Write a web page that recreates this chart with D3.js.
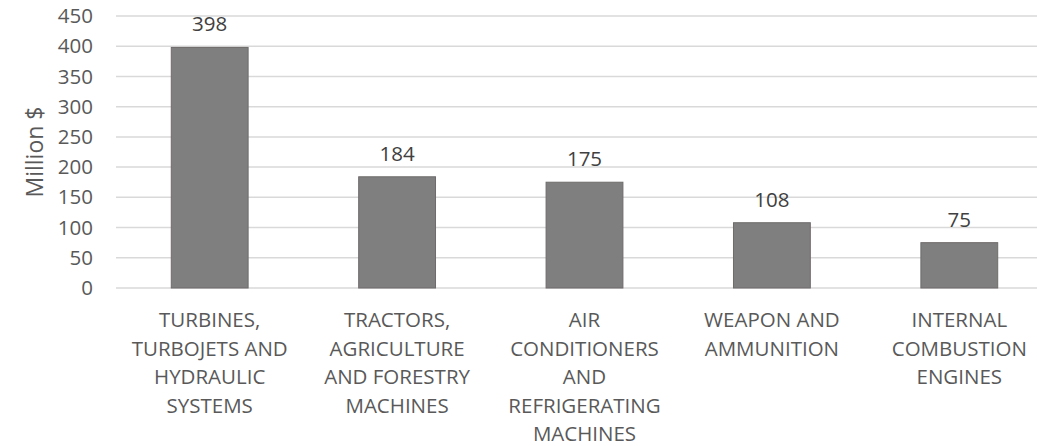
<!DOCTYPE html>
<html>
<head>
<meta charset="utf-8">
<script src="https://cdn.jsdelivr.net/npm/d3@7"></script>
<style>
	body { margin: 0; background: #fff; }
	text { font-family: "Open Sans", sans-serif; fill: #595959; }
</style>
</head>
<body>
<div id="chart"></div>
<script>
// Data
var categories = [
	"TURBINES, TURBOJETS AND HYDRAULIC SYSTEMS",
	"TRACTORS, AGRICULTURE AND FORESTRY MACHINES",
	"AIR CONDITIONERS AND REFRIGERATING MACHINES",
	"WEAPON AND AMMUNITION",
	"INTERNAL COMBUSTION ENGINES"
];
var values = [398, 184, 175, 108, 75];
var yTicks = [0, 50, 100, 150, 200, 250, 300, 350, 400, 450];

var width = 1037, height = 446;
var plot = { left: 116, right: 1053, top: 16, bottom: 288 };
var fontSize = "20.5px";

var svg = d3.select("#chart")
	.append("svg")
		.attr("width", width)
		.attr("height", height);

var x = d3.scaleBand()
	.domain(categories)
	.range([plot.left, plot.right])
	.paddingInner(0.59)
	.paddingOuter(0.295);

var y = d3.scaleLinear()
	.domain([0, 450])
	.range([plot.bottom, plot.top]);

// gridlines
svg.append("g")
	.selectAll("line")
	.data(yTicks)
	.enter()
	.append("line")
		.attr("x1", plot.left)
		.attr("x2", width)
		.attr("y1", function(d){ return y(d); })
		.attr("y2", function(d){ return y(d); })
		.attr("stroke", "#d9d9d9")
		.attr("stroke-width", 1.5);

// y axis labels
var yAxis = d3.axisLeft(y).tickValues(yTicks).tickSize(0).tickPadding(0);
var yg = svg.append("g")
	.attr("transform", "translate(93,0)")
	.call(yAxis);
yg.select(".domain").remove();
yg.selectAll("text")
	.style("font-size", fontSize)
	.attr("fill", "#595959")
	.style("font-family", "'Open Sans', sans-serif");

// axis title
svg.append("text")
	.attr("transform", "translate(43," + ((plot.top + plot.bottom) / 2) + ") rotate(-90)")
	.attr("text-anchor", "middle")
	.style("font-size", "23px")
	.text("Million $");

// bars
svg.selectAll("rect.bar")
	.data(values)
	.enter()
	.append("rect")
		.attr("class", "bar")
		.attr("x", function(d, i){ return x(categories[i]); })
		.attr("y", function(d){ return y(d); })
		.attr("width", x.bandwidth())
		.attr("height", function(d){ return y(0) - y(d); })
		.attr("fill", "#7f7f7f")
		.attr("stroke", "#6f6b6b")
		.attr("stroke-width", 1);

// value labels
svg.selectAll("text.val")
	.data(values)
	.enter()
	.append("text")
		.attr("class", "val")
		.attr("x", function(d, i){ return x(categories[i]) + x.bandwidth() / 2; })
		.attr("y", function(d){ return y(d) - 16; })
		.attr("text-anchor", "middle")
		.style("font-size", fontSize)
		.style("fill", "#404040")
		.text(function(d){ return d; });

// category labels, wrapped
var maxW = 172;
categories.forEach(function(c){
	var t = svg.append("text")
		.attr("text-anchor", "middle")
		.style("font-size", fontSize);
	var cx = x(c) + x.bandwidth() / 2;
	var words = c.split(" ");
	var lines = [];
	var line = [];
	var probe = t.append("tspan");
	words.forEach(function(w){
		line.push(w);
		probe.text(line.join(" "));
		if(probe.node().getComputedTextLength() > maxW && line.length > 1){
			line.pop();
			lines.push(line.join(" "));
			line = [w];
		}
	});
	lines.push(line.join(" "));
	probe.remove();
	lines.forEach(function(l, i){
		t.append("tspan")
			.attr("x", cx)
			.attr("y", 327 + i * 28.6)
			.text(l);
	});
});
</script>
</body>
</html>
